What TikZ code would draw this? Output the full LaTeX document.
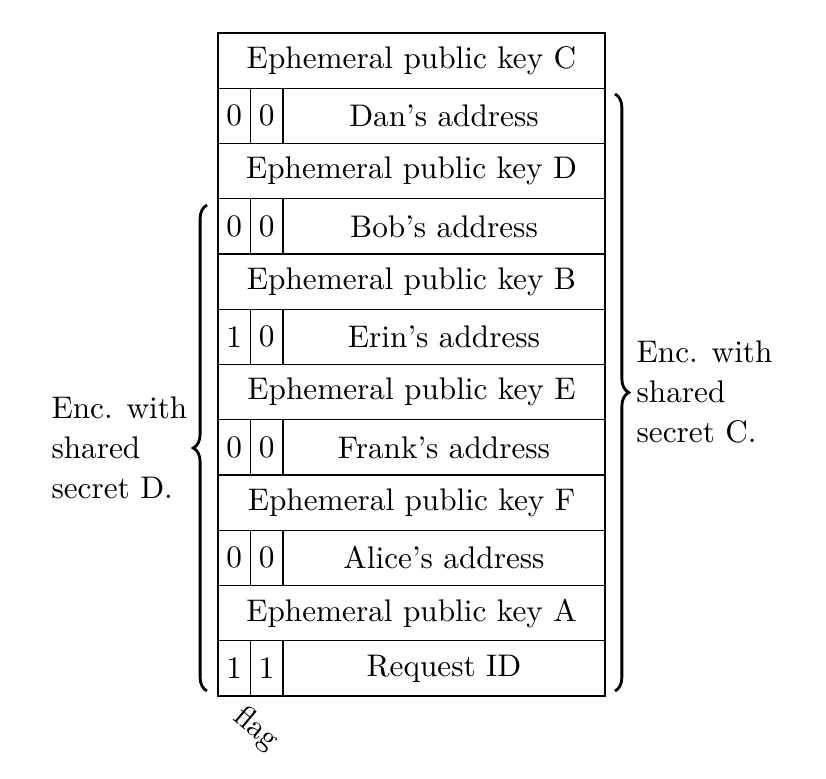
\documentclass[tikz,border=0pt]{standalone}
\usetikzlibrary{decorations.pathreplacing,positioning}

\tikzset{
  keyrow/.style={draw,minimum width=123.84pt,minimum height=17.68pt,inner sep=0pt},
  flagcell/.style={draw,minimum width=10.4pt,minimum height=17.68pt,inner sep=0pt},
  addrcell/.style={draw,minimum width=103.04pt,minimum height=17.68pt,inner sep=0pt},
  encbrace/.style={decorate,decoration={brace,amplitude=4.4pt},line width=0.9pt},
  enctext/.style={align=left,inner sep=0pt,font=\fontsize{10}{12.8}\selectfont}
}

\begin{document}
\begin{tikzpicture}[x=0.32pt,y=-0.32pt]
\useasboundingbox (0,0) rectangle (826,778);

% ephemeral keys
\foreach \name/\row/\lbl in {keyC/0/C,keyD/2/D,keyB/4/B,keyE/6/E,keyF/8/F,keyA/10/A}
  \node[keyrow] (\name) at (411.5,{33+55.25*(\row+0.5)}) {Ephemeral public key \lbl};

% addresses with their two flag bits
\foreach \name/\row/\fa/\fb/\txt in {dan/1/0/0/Dan's address,bob/3/0/0/Bob's address,
    erin/5/1/0/Erin's address,frank/7/0/0/Frank's address,alice/9/0/0/Alice's address,
    req/11/1/1/Request ID}
{
  \node[flagcell] (\name fa) at (234.25,{33+55.25*(\row+0.5)}) {\fa};
  \node[flagcell] (\name fb) at (266.75,{33+55.25*(\row+0.5)}) {\fb};
  \node[addrcell] (\name) at (444,{33+55.25*(\row+0.5)}) {\txt};
}

\node[rotate=-40,inner sep=1pt] (flaglbl) at (256,729) {flag};

% braces
\coordinate (ctop) at (615,94);
\coordinate (cbot) at (615,691);
\draw[encbrace] (ctop) -- (cbot);
\node[enctext,anchor=west] (encC) at (636,392) {Enc. with\\shared\\secret C.};

\coordinate (dtop) at (207,205);
\coordinate (dbot) at (207,691);
\draw[encbrace] (dbot) -- (dtop);
\node[enctext,anchor=east] (encD) at (188,448) {Enc. with\\shared\\secret D.};
\end{tikzpicture}
\end{document}
